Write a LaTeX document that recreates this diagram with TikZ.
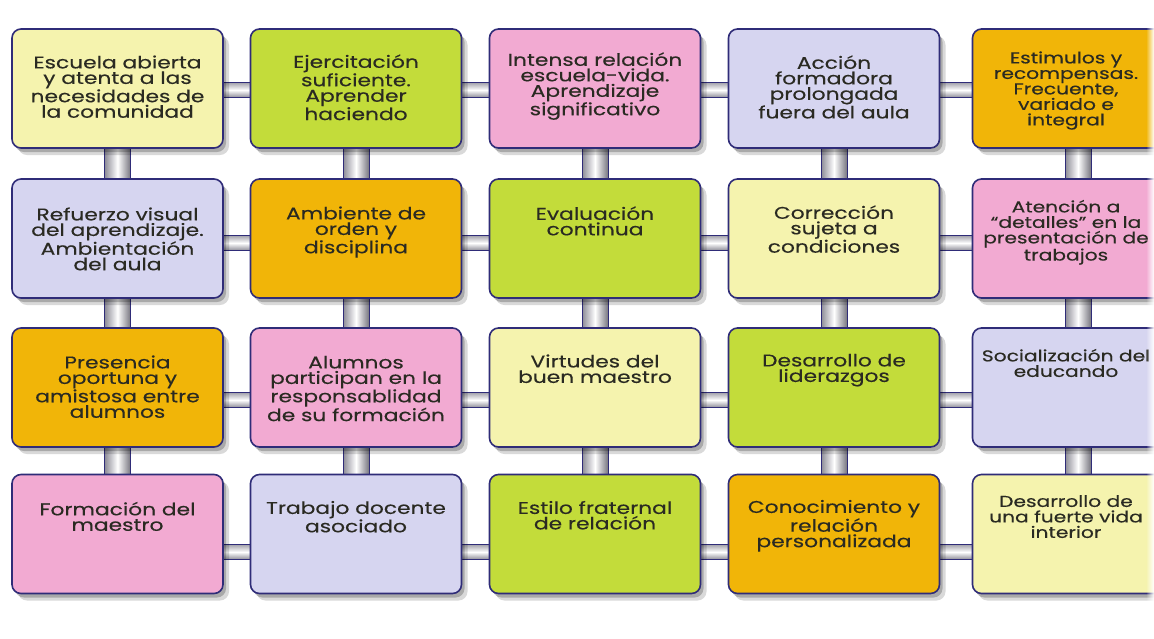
\documentclass[tikz,border=0pt]{standalone}
\usepackage{fontspec}
\setmainfont{Poppins}[FakeStretch=1.28, FakeBold=0.3]
\usetikzlibrary{calc,shadows,fadings}
\definecolor{cY}{HTML}{F5F3AE}
\definecolor{cG}{HTML}{C3DC3A}
\definecolor{cP}{HTML}{F2AAD2}
\definecolor{cL}{HTML}{D6D5F0}
\definecolor{cO}{HTML}{F1B508}
\definecolor{navy}{HTML}{2F2C78}
\definecolor{pipeD}{HTML}{8C8B96}
\definecolor{txt}{HTML}{2A2A22}
\pgfdeclarelayer{background}
\pgfsetlayers{background,main}
\tikzfading[name=fadeR, left color=transparent!100, right color=transparent!0]
\begin{document}
\begin{tikzpicture}[x=1pt,y=-1pt,
 box/.style={draw=navy, line width=1.6pt, rounded corners=9pt, minimum width=211pt, minimum height=119pt, inner sep=0pt,
   drop shadow={shadow xshift=6pt, shadow yshift=-7pt, opacity=.15, fill=black},
   drop shadow={shadow xshift=3pt, shadow yshift=-4pt, opacity=.22, fill=black}},
 lbl/.style={anchor=north, align=center, inner sep=0pt, font=\fontsize{17}{15.5}\selectfont, text=txt},
 lblr/.style={lbl, font=\fontsize{15.8}{15.5}\selectfont},
 pipeV/.style={draw=navy, line width=1pt, left color=pipeD, right color=pipeD!85!black, middle color=white},
 pipeH/.style={draw=navy, line width=1pt, top color=pipeD!80, bottom color=pipeD, middle color=white}]
\useasboundingbox (0,0) rectangle (1154,638);
\begin{pgfonlayer}{background}
\fill[white] (0,0) rectangle (1154,638);
\end{pgfonlayer}
\clip (0,0) rectangle (1154,638);
% row 1
\node[box, fill=cY] (b11) at (117.5,88.5) {};
\node[box, fill=cG] (b12) at (356,88.5) {};
\node[box, fill=cP] (b13) at (595,88.5) {};
\node[box, fill=cL] (b14) at (834,88.5) {};
\node[box, fill=cO] (b15) at (1078,88.5) {};
% row 2
\node[box, fill=cL] (b21) at (117.5,238.5) {};
\node[box, fill=cO] (b22) at (356,238.5) {};
\node[box, fill=cG] (b23) at (595,238.5) {};
\node[box, fill=cY] (b24) at (834,238.5) {};
\node[box, fill=cP] (b25) at (1078,238.5) {};
% row 3
\node[box, fill=cO] (b31) at (117.5,387.5) {};
\node[box, fill=cP] (b32) at (356,387.5) {};
\node[box, fill=cY] (b33) at (595,387.5) {};
\node[box, fill=cG] (b34) at (834,387.5) {};
\node[box, fill=cL] (b35) at (1078,387.5) {};
% row 4
\node[box, fill=cP] (b41) at (117.5,534) {};
\node[box, fill=cL] (b42) at (356,534) {};
\node[box, fill=cG] (b43) at (595,534) {};
\node[box, fill=cO] (b44) at (834,534) {};
\node[box, fill=cY] (b45) at (1078,534) {};
% texts
\node[lbl] (t11) at ($(b11.north)+(0,27)$) {\rule{0pt}{13pt}Escuela abierta\\y atenta a las\\necesidades de\\la comunidad};
\node[lbl] (t12) at ($(b12.north)+(0,26)$) {\rule{0pt}{13pt}Ejercitación\\suficiente.\\Aprender\\haciendo};
\node[lbl] (t13) at ($(b13.north)+(0,24)$) {\rule{0pt}{13pt}Intensa relación\\escuela-vida.\\Aprendizaje\\significativo};
\node[lbl] (t14) at ($(b14.north)+(0,27)$) {\rule{0pt}{13pt}Acción\\formadora\\prolongada\\fuera del aula};
\node[lblr] (t15) at ($(b15.north)+(-12,22)$) {\rule{0pt}{13pt}Estimulos y\\recompensas.\\Frecuente,\\variado e\\integral};
\node[lbl] (t21) at ($(b21.north)+(0,29)$) {\rule{0pt}{13pt}Refuerzo visual\\del aprendizaje.\\Ambientación\\del aula};
\node[lbl] (t22) at ($(b22.north)+(0,28)$) {\rule{0pt}{13pt}Ambiente de\\orden y\\disciplina};
\node[lbl] (t23) at ($(b23.north)+(0,28)$) {\rule{0pt}{13pt}Evaluación\\continua};
\node[lbl] (t24) at ($(b24.north)+(0,27)$) {\rule{0pt}{13pt}Corrección\\sujeta a\\condiciones};
\node[lblr] (t25) at ($(b25.north)+(-12,21)$) {\rule{0pt}{13pt}Atención a\\“detalles” en la\\presentación de\\trabajos};
\node[lbl] (t31) at ($(b31.north)+(0,28)$) {\rule{0pt}{13pt}Presencia\\oportuna y\\amistosa entre\\alumnos};
\node[lbl] (t32) at ($(b32.north)+(0,28)$) {\rule{0pt}{13pt}Alumnos\\participan en la\\responsablidad\\de su formación};
\node[lbl] (t33) at ($(b33.north)+(0,27)$) {\rule{0pt}{13pt}Virtudes del\\buen maestro};
\node[lbl] (t34) at ($(b34.north)+(0,26)$) {\rule{0pt}{13pt}Desarrollo de\\liderazgos};
\node[lblr] (t35) at ($(b35.north)+(-12,21)$) {\rule{0pt}{13pt}Socialización del\\educando};
\node[lbl] (t41) at ($(b41.north)+(0,28)$) {\rule{0pt}{13pt}Formación del\\maestro};
\node[lbl] (t42) at ($(b42.north)+(0,27)$) {\rule{0pt}{13pt}Trabajo docente\\asociado};
\node[lbl] (t43) at ($(b43.north)+(0,27)$) {\rule{0pt}{13pt}Estilo fraternal\\de relación};
\node[lbl] (t44) at ($(b44.north)+(0,26)$) {\rule{0pt}{13pt}Conocimiento y\\relación\\personalizada};
\node[lblr] (t45) at ($(b45.north)+(-12,20)$) {\rule{0pt}{13pt}Desarrollo de\\una fuerte vida\\interior};
% pipes
\begin{pgfonlayer}{background}
\foreach \c in {1,...,5}{
  \foreach \r/\s in {1/2,2/3,3/4}{
    \path[pipeV] ($(b\r\c.center)+(-13,0)$) rectangle ($(b\s\c.center)+(13,0)$);
  }
}
\foreach \r/\dy in {1/1.5,2/4.5,3/12.5,4/18}{
  \foreach \c/\d in {1/2,2/3,3/4,4/5}{
    \path[pipeH] ($(b\r\c.center)+(0,\dy-7.5)$) rectangle ($(b\r\d.center)+(0,\dy+7.5)$);
  }
}
\end{pgfonlayer}
\fill[white, path fading=fadeR] (1146,0) rectangle (1154,638);
\end{tikzpicture}
\end{document}
